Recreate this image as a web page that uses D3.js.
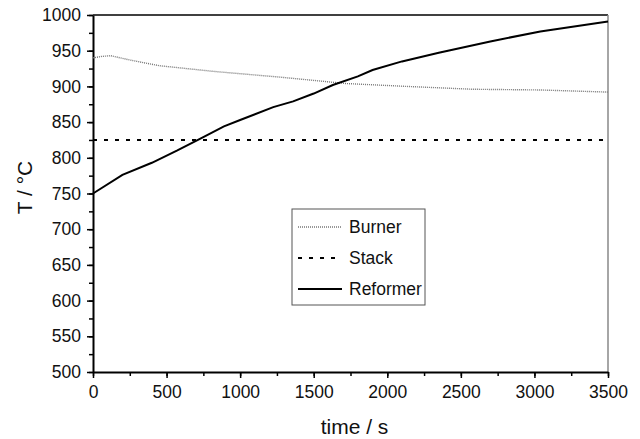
<!DOCTYPE html>
<html>
<head>
<meta charset="utf-8">
<script src="https://cdn.jsdelivr.net/npm/d3@7"></script>
<style>
  body { margin: 0; background: #fff; }
  text { font-family: "Liberation Sans", Arial, sans-serif; fill: #111; }
</style>
</head>
<body>
<div id="chart"></div>
<script>
// series data
const burnerTime = [0, 60, 120, 250, 450, 820, 1270, 1720, 2130, 2580, 3040, 3500];
const burnerTemp = [940, 942, 943, 937, 929, 921, 913, 904, 900, 896, 895, 892];
const stackTime = [0, 3500];
const stackTemp = [825, 825];
const reformerTime = [0, 200, 400, 570, 730, 890, 1000, 1225, 1360, 1500, 1630, 1800, 1900, 2100, 2350, 2700, 3040, 3500];
const reformerTemp = [750, 776, 793, 810, 827, 844, 853, 871, 879, 890, 902, 914, 923, 935, 947, 963, 977, 991];
const xTicks = [0, 500, 1000, 1500, 2000, 2500, 3000, 3500];
const yTicks = [500, 550, 600, 650, 700, 750, 800, 850, 900, 950, 1000];
const seriesNames = ["Burner", "Stack", "Reformer"];

const width = 640, height = 439;
const margin = { left: 93, right: 32, top: 15, bottom: 67 };

const svg = d3.select("#chart").append("svg")
  .attr("width", width)
  .attr("height", height);

const x = d3.scaleLinear().domain([0, 3500]).range([margin.left, width - margin.right]);
const y = d3.scaleLinear().domain([500, 1000]).range([height - margin.bottom, margin.top]);

//frame: top black, right grey
svg.append("line")
  .attr("x1", x(0)).attr("x2", x(3500)).attr("y1", y(1000)).attr("y2", y(1000))
  .attr("stroke", "#000").attr("stroke-width", 1.5);
svg.append("line")
  .attr("x1", x(3500)).attr("x2", x(3500)).attr("y1", y(1000)).attr("y2", y(500))
  .attr("stroke", "#888").attr("stroke-width", 1.5);

//minor ticks
svg.append("g")
  .attr("transform", `translate(0,${y(500)})`)
  .call(d3.axisBottom(x).tickValues(d3.range(0, 3501, 250)).tickSize(4).tickFormat(""))
  .call(g => g.select(".domain").remove())
  .selectAll("line").attr("stroke-width", 1.5);
svg.append("g")
  .attr("transform", `translate(${x(0)},0)`)
  .call(d3.axisLeft(y).tickValues(d3.range(500, 1001, 25)).tickSize(4).tickFormat(""))
  .call(g => g.select(".domain").remove())
  .selectAll("line").attr("stroke-width", 1.5);

//major axes
const xAxis = svg.append("g")
  .attr("transform", `translate(0,${y(500)})`)
  .call(d3.axisBottom(x).tickValues(xTicks).tickFormat(d3.format("d"))
    .tickSize(6).tickSizeOuter(0).tickPadding(8));
const yAxis = svg.append("g")
  .attr("transform", `translate(${x(0)},0)`)
  .call(d3.axisLeft(y).tickValues(yTicks).tickFormat(d3.format("d"))
    .tickSize(6).tickSizeOuter(0).tickPadding(6));

[xAxis, yAxis].forEach(a => {
  a.select(".domain").attr("stroke-width", 2);
  a.selectAll(".tick line").attr("stroke-width", 1.5);
  a.selectAll(".tick text")
    .style("font-family", '"Liberation Sans", Arial, sans-serif')
    .style("font-size", "17.5px")
    .attr("fill", "#111");
});

//axis titles
svg.append("text")
  .attr("x", (x(0) + x(3500)) / 2 + 4)
  .attr("y", 434)
  .attr("text-anchor", "middle")
  .style("font-size", "21px")
  .text("time / s");
svg.append("text")
  .attr("transform", `translate(32,${(y(500) + y(1000)) / 2 - 6}) rotate(-90)`)
  .attr("text-anchor", "middle")
  .style("font-size", "21px")
  .text("T / °C");

const line = d3.line()
  .x(d => x(d[0]))
  .y(d => y(d[1]));

const styles = {
  Burner: { color: "#777", width: 1.4, dash: "1,1" },
  Stack: { color: "#000", width: 2, dash: "4,7" },
  Reformer: { color: "#000", width: 2, dash: null }
};

const series = [
  { name: "Burner", pts: d3.zip(burnerTime, burnerTemp) },
  { name: "Stack", pts: d3.zip(stackTime, stackTemp) },
  { name: "Reformer", pts: d3.zip(reformerTime, reformerTemp) }
];

svg.append("g").selectAll("path")
  .data(series)
  .enter()
  .append("path")
  .attr("d", d => line(d.pts))
  .attr("fill", "none")
  .attr("stroke", d => styles[d.name].color)
  .attr("stroke-width", d => styles[d.name].width)
  .attr("stroke-dasharray", d => styles[d.name].dash);

//legend box
const legend = svg.append("g").attr("transform", "translate(292,209)");
legend.append("rect")
  .attr("width", 133).attr("height", 96)
  .attr("fill", "#fff").attr("stroke", "#555").attr("stroke-width", 1);

const entry = legend.selectAll("g.entry")
  .data(seriesNames)
  .enter()
  .append("g")
  .attr("class", "entry")
  .attr("transform", (d, i) => `translate(0,${18 + i * 31})`);
entry.append("line")
  .attr("x1", 6).attr("x2", 50)
  .attr("stroke", d => styles[d].color)
  .attr("stroke-width", d => styles[d].width)
  .attr("stroke-dasharray", d => styles[d].dash);
entry.append("text")
  .attr("x", 57)
  .attr("dy", "0.35em")
  .style("font-size", "17.5px")
  .text(d => d);
</script>
</body>
</html>
